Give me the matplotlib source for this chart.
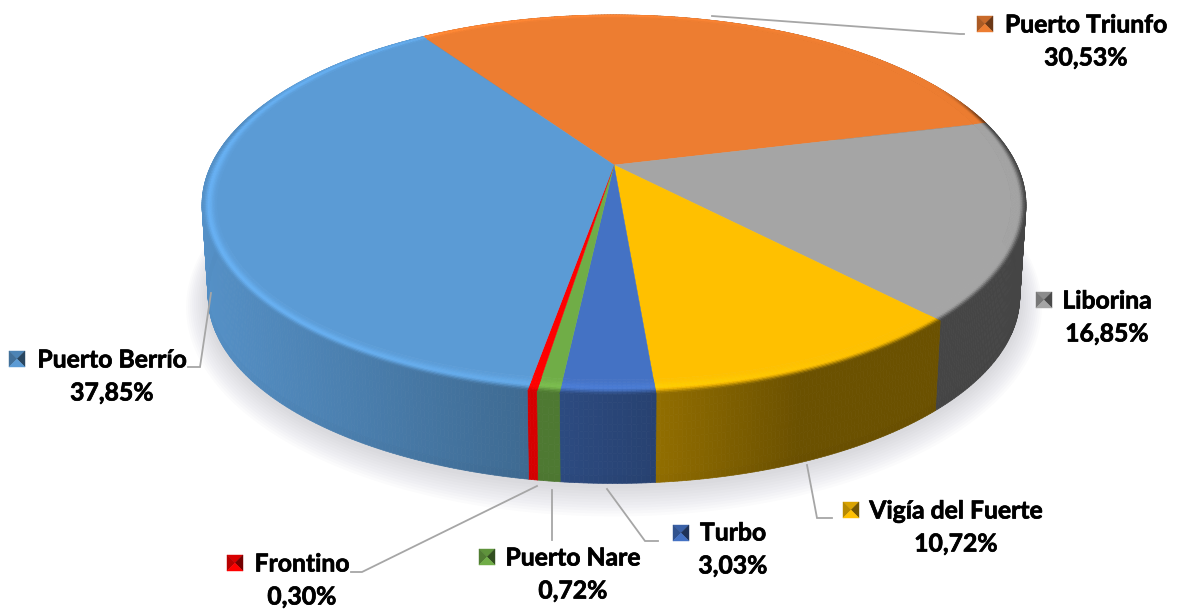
import numpy as np
import matplotlib
matplotlib.use("Agg")
import matplotlib.pyplot as plt
import matplotlib.patheffects as pe
from matplotlib.collections import PolyCollection

# clockwise from the top of the pie
names = ["Puerto Triunfo", "Liborina", "Vigía del Fuerte", "Turbo", "Puerto Nare", "Frontino", "Puerto Berrío"]
shares = [30.53, 16.85, 10.72, 3.03, 0.72, 0.30, 37.85]
colors = ["#ED7D31", "#A5A5A5", "#FFC000", "#4472C4", "#70AD47", "#FF0000", "#5B9BD5"]
first_angle = 326.1

plt.rcParams['font.family'] = ['Lato', 'DejaVu Sans']

# layout in pixels: text centre, legend key centre
label_pos = [(1086, 25), (1107, 301), (956, 511), (733, 533), (573, 558), (302, 564), (112, 360)]
key_pos = [(985, 24), (1044, 300), (851, 510), (681, 533), (487, 557), (235, 563), (17, 359)]
leaders = [
    [(712, 16), (960, 34), (964, 34)],
    [(807, 465), (817, 518), (832, 518)],
    [(607, 489), (645, 541), (658, 541)],
    [(552, 490), (552, 540)],
    [(537, 486), (362, 572), (351, 572)],
    [(211, 293), (200, 367), (188, 367)],
]

# perspective of the disc: apex position, half axes, tilt
cx, cy = 614.0, 165.0
a, b, k = 402.8, 181.6, 0.21
depth, bottom_scale = 92.0, 0.985


def rim(t, scale=1.0, dy=0.0):
    d = 1 + k * np.cos(t)
    return cx + scale * a * np.sin(t) / d, cy + dy - scale * b * np.cos(t) / d


def hex_rgb(c):
    return np.array(matplotlib.colors.to_rgb(c))


def wall_factor(x):
    return np.interp(x, [205, 350, 530, 650, 800, 1027], [0.93, 0.82, 0.68, 0.58, 0.42, 0.42])


def smooth(v):
    v = np.clip(v, 0, 1)
    return v * v * (3 - 2 * v)


def add_quads(ax, quads, cols, z):
    pc = PolyCollection(quads, facecolors=cols, edgecolors=cols, linewidths=0.5, zorder=z)
    ax.add_collection(pc)


fig = plt.figure(figsize=(11.77, 6.12), dpi=100)
ax = fig.add_axes([0, 0, 1, 1])
ax.set_xlim(0, 1177)
ax.set_ylim(612, 0)
ax.axis("off")

# soft shadow below the pie
tt = np.linspace(0, 2 * np.pi, 361)
bx, by = rim(tt, bottom_scale, depth)
ex, ey = cx, cy + depth - 40
for e in np.arange(22, 0, -2.0):
    sx = ex + (bx - ex) * (404 + e) / 404
    sy = ey + (by - ey) * (189 + e) / 189 + 2
    ax.fill(sx, sy, color="#30304a", alpha=0.016, lw=0, zorder=1)

angles = first_angle + np.cumsum([0] + shares) * 3.6

for i, c in enumerate(colors):
    base = hex_rgb(c)
    n = max(4, int(shares[i] * 3.6 * 2))
    t = np.radians(np.linspace(angles[i], angles[i + 1], n))

    # side wall
    vs = np.linspace(0, 1, 13)
    quads, cols = [], []
    x0, y0 = rim(t)
    x1, y1 = rim(t, bottom_scale, depth)
    for j in range(n - 1):
        f = wall_factor(0.5 * (x0[j] + x0[j + 1]))
        if c == "#FF0000":
            f = 0.84
        if c == "#70AD47":
            f = 0.7
        for m in range(len(vs) - 1):
            v0, v1 = vs[m], vs[m + 1]
            quads.append([
                (x0[j] + (x1[j] - x0[j]) * v0, y0[j] + (y1[j] - y0[j]) * v0),
                (x0[j + 1] + (x1[j + 1] - x0[j + 1]) * v0, y0[j + 1] + (y1[j + 1] - y0[j + 1]) * v0),
                (x0[j + 1] + (x1[j + 1] - x0[j + 1]) * v1, y0[j + 1] + (y1[j + 1] - y0[j + 1]) * v1),
                (x0[j] + (x1[j] - x0[j]) * v1, y0[j] + (y1[j] - y0[j]) * v1),
            ])
            shade = 1 - 0.22 * smooth((v0 - 0.9) / 0.1)
            cols.append(np.clip(base * f * shade, 0, 1))
    add_quads(ax, quads, cols, 2)

    # flat part of the top, inside the bevel
    up = np.cos(t)
    w = np.where(up > 0, 15 - 12 * up, 15.0)
    dx, dy = x0 - cx, y0 - cy
    ln = np.hypot(dx, dy)
    nx, ny = dx / ln, dy / ln
    ax.fill(np.r_[cx, x0 - w * nx], np.r_[cy, y0 - w * ny], color=c, lw=0.3, zorder=3)

    # bevel strips between flat part and rim
    us = np.linspace(0, 1, 11)
    quads, cols = [], []
    for j in range(n - 1):
        xm = 0.5 * (x0[j] + x0[j + 1])
        um = 0.5 * (up[j] + up[j + 1])
        hl = np.interp(xm, [205, 530, 650, 900], [0.15, 0.10, 0.08, 0.0])
        edge = wall_factor(xm)
        if c == "#FF0000":
            edge = 0.84
        if c == "#70AD47":
            edge = 0.7
        fade = 1 - smooth((um - 0.2) / 0.3)
        for m in range(len(us) - 1):
            u0, u1 = us[m], us[m + 1]
            um2 = 0.5 * (u0 + u1)
            bump = np.exp(-((um2 - 0.45) / 0.35) ** 2)
            col = base * (1 + hl * bump)
            mix = fade * smooth(1 - um2 / 0.5)
            col = col * (1 - mix) + base * edge * mix
            quads.append([
                (x0[j] - w[j] * u0 * nx[j], y0[j] - w[j] * u0 * ny[j]),
                (x0[j + 1] - w[j + 1] * u0 * nx[j + 1], y0[j + 1] - w[j + 1] * u0 * ny[j + 1]),
                (x0[j + 1] - w[j + 1] * u1 * nx[j + 1], y0[j + 1] - w[j + 1] * u1 * ny[j + 1]),
                (x0[j] - w[j] * u1 * nx[j], y0[j] - w[j] * u1 * ny[j]),
            ])
            cols.append(np.clip(col, 0, 1))
    add_quads(ax, quads, cols, 4)

# leader lines
for line in leaders:
    xs, ys = zip(*line)
    ax.plot(xs, ys, color="#A6A6A6", lw=1.3, zorder=5, solid_joinstyle="miter")

# labels and bevelled legend keys
thick = [pe.withStroke(linewidth=0.5, foreground="black")]
for i, name in enumerate(names):
    lx, ly = label_pos[i]
    ax.text(lx, ly, name, ha="center", va="center", fontsize=17.8, fontweight="bold", color="black",
            zorder=6, path_effects=thick)
    ax.text(lx, ly + 33, f"{shares[i]:.2f}%".replace(".", ","), ha="center", va="center",
            fontsize=17.8, fontweight="bold", color="black", zorder=6, path_effects=thick)
    kx, ky = key_pos[i]
    h = 8
    base = hex_rgb(colors[i])
    tris = [
        ([kx - h, kx + h, kx], [ky - h, ky - h, ky], base * 0.85),
        ([kx - h, kx, kx - h], [ky - h, ky, ky + h], base * 0.72),
        ([kx + h, kx, kx + h], [ky - h, ky, ky + h], base * 0.45),
        ([kx - h, kx + h, kx], [ky + h, ky + h, ky], np.clip(base * 1.0, 0, 1)),
    ]
    for tx, ty, col in tris:
        ax.fill(tx, ty, facecolor=col, edgecolor=col, lw=0.3, zorder=6)

fig.savefig("out.png", dpi=100)
